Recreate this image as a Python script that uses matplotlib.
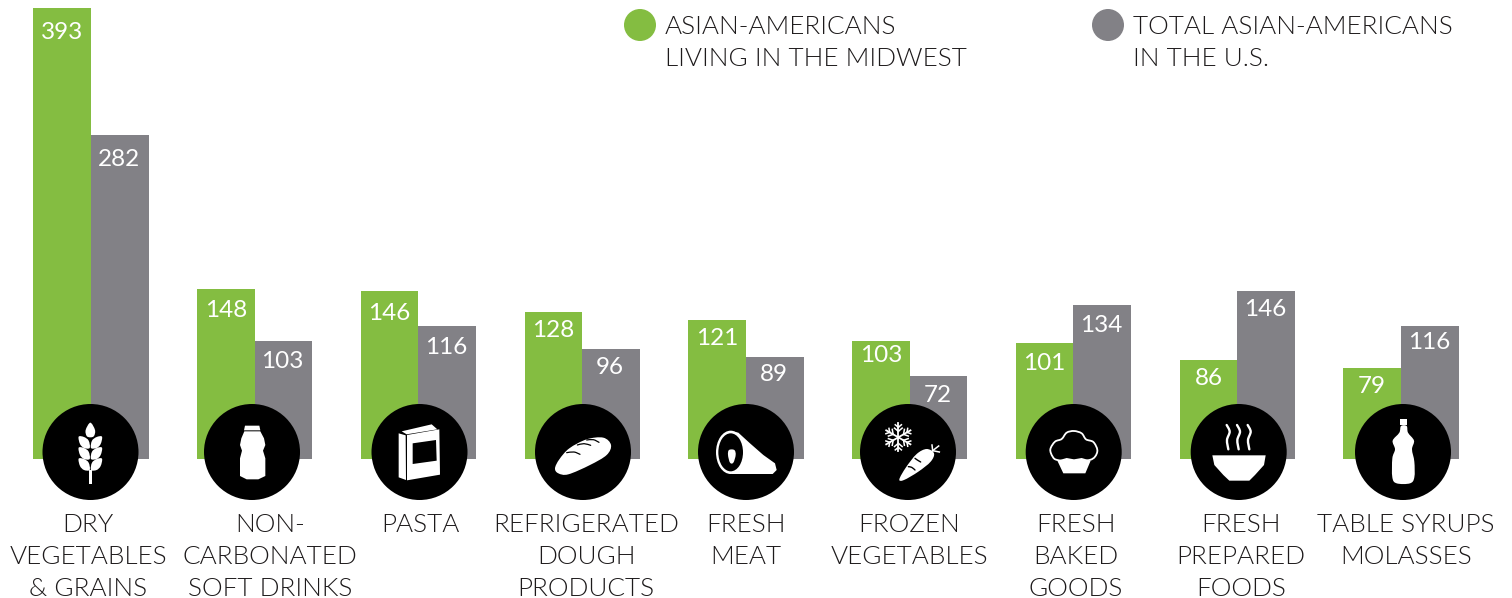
import numpy as np
import matplotlib
matplotlib.use('Agg')
import matplotlib.pyplot as plt
from matplotlib import font_manager as fm
from matplotlib.patches import Circle, Ellipse, PathPatch, Polygon
from matplotlib.path import Path

# Index values per food category
categories = [
    ['DRY', 'VEGETABLES', '& GRAINS'],
    ['NON-', 'CARBONATED', 'SOFT DRINKS'],
    ['PASTA'],
    ['REFRIGERATED', 'DOUGH', 'PRODUCTS'],
    ['FRESH', 'MEAT'],
    ['FROZEN', 'VEGETABLES'],
    ['FRESH', 'BAKED', 'GOODS'],
    ['FRESH', 'PREPARED', 'FOODS'],
    ['TABLE SYRUPS', 'MOLASSES'],
]
midwest = [393, 148, 146, 128, 121, 103, 101, 86, 79]
total_us = [282, 103, 116, 96, 89, 72, 134, 146, 116]

GREEN = '#84bd41'
GRAY = '#828186'
INK = '#1d1a1b'
W, H = 1512, 598
FONT = 'Lato'

# Lato Light by file, the weight lookup lands on Hairline
light_file = next((f.fname for f in fm.fontManager.ttflist if 'Lato-Light.' in f.fname), None)
if light_file:
    light = fm.FontProperties(fname=light_file, size=18.8)
else:
    light = fm.FontProperties(family=FONT, size=18.8)

# how far each value sits under the top of its bar, in pixels
drop_mid = [25, 21, 22, 18, 18, 15, 20, 18, 18]
drop_tot = [24, 21, 22, 19, 18, 19, 20, 18, 17]
circle_x = [90.5, 252, 419.5, 583, 746, 908, 1073.7, 1238.7, 1403]
label_x = [88, 270, 420, 586, 746, 909, 1076, 1241, 1406]

fig = plt.figure(figsize=(W / 100, H / 100), dpi=100)

# bars: one x unit is one group, y is in index points
ax = fig.add_axes([0, 0, 1, 1])
step = 163.75
base_y = 459
per_unit = 1.148
ax.set_xlim(-91 / step, (W - 91) / step)
ax.set_ylim(-(H - base_y) / per_unit, base_y / per_unit)
ax.axis('off')
x = np.arange(len(midwest))
bw = 57.7 / step
ax.bar(x - bw / 2, midwest, bw, color=GREEN, linewidth=0)
ax.bar(x + bw / 2, total_us, bw, color=GRAY, linewidth=0)
for i in x:
    ax.annotate(str(midwest[i]), (i - bw / 2, midwest[i]), xytext=(0, -drop_mid[i]),
                textcoords='offset pixels', ha='center', va='center',
                color='white', fontsize=17.5, family=FONT)
    ax.annotate(str(total_us[i]), (i + bw / 2, total_us[i]), xytext=(-1, -drop_tot[i]),
                textcoords='offset pixels', ha='center', va='center',
                color='white', fontsize=17.5, family=FONT)

# overlay in pixel coordinates for icons, labels and legend
ov = fig.add_axes([0, 0, 1, 1])
ov.set_xlim(0, W)
ov.set_ylim(H, 0)
ov.axis('off')
ov.patch.set_alpha(0)


def spline(pts, closed=True):
    # Catmull-Rom through the points, as cubic beziers
    p = np.asarray(pts, float)
    n = len(p)
    verts = [p[0]]
    codes = [Path.MOVETO]
    for i in range(n if closed else n - 1):
        if closed:
            p0, p1, p2, p3 = p[(i - 1) % n], p[i], p[(i + 1) % n], p[(i + 2) % n]
        else:
            p0, p1, p2, p3 = p[max(i - 1, 0)], p[i], p[i + 1], p[min(i + 2, n - 1)]
        verts += [p1 + (p2 - p0) / 6, p2 - (p3 - p1) / 6, p2]
        codes += [Path.CURVE4] * 3
    return Path(verts, codes)


def zc(pts, ox, oy=390):
    # icon outlines are noted at 3 units per pixel
    return [(ox + a / 3, oy + b / 3) for a, b in pts]


def blob(pts, ox, color='white', zorder=5):
    ov.add_patch(PathPatch(spline(zc(pts, ox)), fc=color, ec='none', zorder=zorder))


def poly(pts, ox, color='white', zorder=5):
    ov.add_patch(Polygon(zc(pts, ox), closed=True, fc=color, ec='none', zorder=zorder))


def stroke(pts, ox, lw=1.6, color='white', zorder=6):
    ov.add_patch(PathPatch(spline(zc(pts, ox), closed=False), fc='none', ec=color,
                           lw=lw, capstyle='round', zorder=zorder))


def wheat():
    blob([(271, 98), (285, 120), (282, 138), (271, 142), (260, 138), (257, 120)], 0)
    for dy in (0, 33, 66):
        left = [(236, 140), (252, 141), (266, 152), (269, 174), (252, 174), (240, 162)]
        right = [(542 - a, b) for a, b in left]
        blob([(a, b + dy) for a, b in left], 0)
        blob([(a, b + dy) for a, b in right], 0)
    poly([(267, 240), (276, 240), (276, 282), (267, 282)], 0)


def drink():
    poly([(735, 107), (778, 107), (781, 121), (732, 121)], 0)
    poly([(733, 124), (781, 124), (792, 145), (796, 165), (789, 182), (796, 205), (796, 258),
          (775, 268), (740, 268), (720, 258), (720, 205), (726, 182), (720, 165), (724, 145)], 0)


def box():
    poly([(1196, 130), (1217, 136), (1218, 270), (1196, 262)], 0)
    poly([(1221, 135), (1318, 118), (1320, 254), (1221, 271)], 0)
    poly([(1205, 124), (1295, 103), (1312, 118), (1220, 133)], 0)
    poly([(1238, 160), (1308, 150), (1310, 212), (1238, 222)], 0, color='black', zorder=6)


def bread():
    blob([(165, 235), (178, 208), (208, 175), (260, 148), (310, 143), (333, 165), (320, 195),
          (270, 225), (205, 253), (175, 250)], 500)
    stroke([(200, 188), (222, 186), (240, 193)], 500, lw=0.9, color='black')
    stroke([(232, 165), (252, 161), (272, 166)], 500, lw=0.9, color='black')
    stroke([(260, 150), (280, 149), (297, 157)], 500, lw=0.9, color='black')


def meat():
    poly([(695, 124), (715, 128), (750, 160), (790, 195), (825, 220), (830, 240), (818, 252),
          (695, 252)], 500)
    ov.add_patch(Ellipse((500 + 692 / 3, 390 + 187 / 3), 88 / 3, 130 / 3, fc='white', ec='none', zorder=5))
    ov.add_patch(Ellipse((500 + 692 / 3, 390 + 187 / 3), 74 / 3, 114 / 3, fc='black', ec='none', zorder=6))
    blob([(687, 180), (703, 180), (707, 195), (700, 218), (690, 218), (684, 195)], 500, zorder=7)


def frozen():
    cx, cy = 500 + 1195 / 3, 390 + 142 / 3
    for ang in np.radians(np.arange(0, 360, 60) + 90):
        d = np.array([np.cos(ang), np.sin(ang)])
        ov.plot([cx, cx + 14 * d[0]], [cy, cy + 14 * d[1]], color='white', lw=1.3, zorder=6)
        for r, ln in ((6, 5), (10, 4)):
            for sgn in (-1, 1):
                a2 = ang + sgn * np.radians(50)
                ov.plot([cx + r * d[0], cx + r * d[0] + ln * np.cos(a2)],
                        [cy + r * d[1], cy + r * d[1] + ln * np.sin(a2)],
                        color='white', lw=1.1, zorder=6)
    blob([(1198, 268), (1218, 232), (1250, 192), (1280, 177), (1302, 190), (1292, 215),
          (1255, 245), (1212, 270)], 500)
    stroke([(1225, 230), (1235, 232), (1245, 240)], 500, lw=1.0, color='black')
    stroke([(1245, 205), (1252, 210), (1262, 216)], 500, lw=1.0, color='black')
    for tip in ((1296, 165), (1316, 168), (1318, 186)):
        ov.plot(*zip(*zc([(1298, 182), tip], 500)), color='white', lw=1.1, zorder=6)


def muffin():
    ov.add_patch(PathPatch(spline(zc([(158, 200), (151, 178), (165, 155), (185, 147), (200, 128),
                                      (222, 123), (245, 130), (258, 148), (280, 156), (292, 180),
                                      (285, 200), (268, 210), (222, 215), (172, 210)], 1000)),
                           fc='black', ec='white', lw=1.3, zorder=5))
    poly([(172, 212), (200, 204), (222, 208), (245, 204), (272, 212), (256, 250), (190, 250)], 1000, zorder=6)


def soup():
    poly([(637, 196), (797, 196), (792, 225), (765, 255), (748, 272), (688, 272), (670, 255),
          (643, 225)], 1000)
    for sx in (685, 716, 748):
        stroke([(sx - 5, 105), (sx + 4, 125), (sx - 4, 150), (sx, 178)], 1000, lw=1.7)


def syrup():
    poly([(1200, 88), (1222, 88), (1222, 105), (1200, 105)], 1000)
    blob([(1203, 108), (1220, 108), (1224, 128), (1242, 152), (1236, 178), (1243, 215), (1243, 262),
          (1230, 280), (1190, 280), (1177, 262), (1177, 205), (1185, 178), (1178, 152), (1198, 128)], 1000)


icons = [wheat, drink, box, bread, meat, frozen, muffin, soup, syrup]
for cx, icon in zip(circle_x, icons):
    ov.add_patch(Circle((cx, 452), 48, fc='black', ec='none', zorder=4))
    icon()

# category names under the circles, one baseline per line
for lx, lines in zip(label_x, categories):
    for k, line in enumerate(lines):
        ov.text(lx, 532 + 32 * k, line, ha='center', va='baseline', color=INK,
                fontproperties=light)

# legend
ov.add_patch(Circle((640, 25), 16, fc=GREEN, ec='none'))
ov.add_patch(Circle((1108, 25), 16, fc=GRAY, ec='none'))
for tx, lines in ((665, ['ASIAN-AMERICANS', 'LIVING IN THE MIDWEST']),
                  (1133, ['TOTAL ASIAN-AMERICANS', 'IN THE U.S.'])):
    for k, line in enumerate(lines):
        ov.text(tx, 34 + 32 * k, line, ha='left', va='baseline', color=INK,
                fontproperties=light)

fig.savefig('out.png', dpi=100, facecolor='white')
